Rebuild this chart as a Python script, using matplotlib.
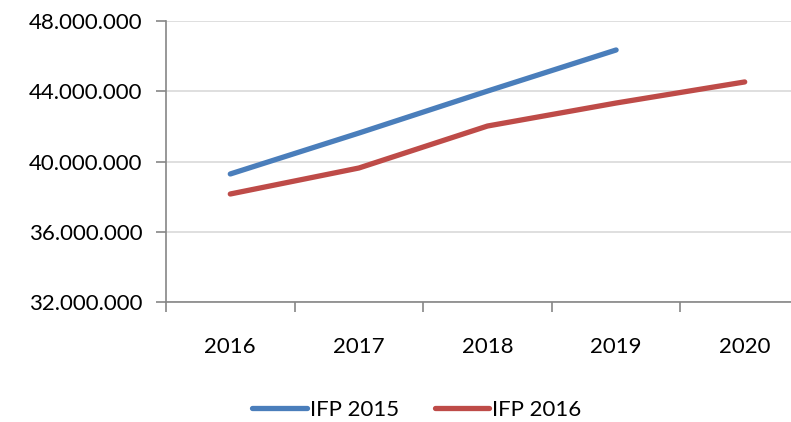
import numpy as np
import matplotlib.pyplot as plt
from matplotlib.ticker import FuncFormatter, FixedLocator

plt.rcParams['font.family'] = ['Lato', 'DejaVu Sans']

years = ['2016', '2017', '2018', '2019', '2020']
ifp_2015 = [39.29, 41.62, 44.01, 46.35]
ifp_2016 = [38.15, 39.63, 42.02, 43.33, 44.53]

fig = plt.figure(figsize=(7.91, 4.22), dpi=100)
# plot area runs a bit past the right edge, like the original crop
ax = fig.add_axes([166 / 791, 1 - 302 / 422, 643 / 791, 281 / 422])

x = np.arange(len(years))
ax.plot(x[:len(ifp_2015)], np.array(ifp_2015) * 1e6, color='#4a7ebb', lw=3.8,
        solid_capstyle='round', label='IFP 2015')
ax.plot(x, np.array(ifp_2016) * 1e6, color='#be4b48', lw=3.8,
        solid_capstyle='round', label='IFP 2016')

ax.set_xlim(-0.5, len(years) - 0.5)
ax.set_ylim(32e6, 48e6)
ax.set_yticks(np.arange(32e6, 48e6 + 1, 4e6))
ax.yaxis.set_major_formatter(FuncFormatter(lambda v, p: f'{v:,.0f}'.replace(',', '.')))
ax.grid(axis='y', color='#d9d9d9', lw=1.2)
ax.set_axisbelow(True)

ax.set_xticks(x)
ax.set_xticklabels(years)
ax.xaxis.set_minor_locator(FixedLocator(np.arange(-0.5, len(years), 1)))
ax.tick_params(axis='x', which='major', length=0, pad=25, labelsize=16)
ax.tick_params(axis='x', which='minor', length=7, color='#868686', width=1.2)
ax.tick_params(axis='y', length=7, color='#868686', width=1.2, labelsize=16, pad=10)

for side in ['top', 'right']:
    ax.spines[side].set_visible(False)
for side in ['left', 'bottom']:
    ax.spines[side].set_color('#868686')
    ax.spines[side].set_linewidth(1.2)

fig.legend(loc='center', bbox_to_anchor=(417 / 791, 1 - 410 / 422), ncol=2, frameon=False,
           fontsize=16, handlelength=2.45, handletextpad=0.15, columnspacing=1.6)

fig.savefig('out.png', dpi=100)
